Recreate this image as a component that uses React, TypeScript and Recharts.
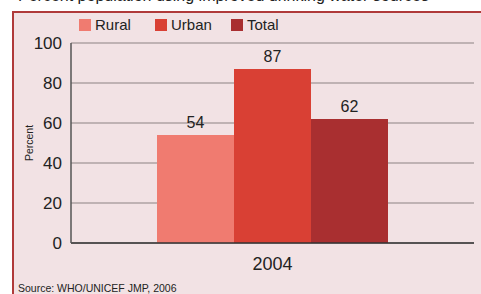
import React from "react";
import { BarChart, Bar, XAxis, YAxis, CartesianGrid, LabelList } from "recharts";

const years = ["2004"];
const rural = [54];
const urban = [87];
const total = [62];
const yTicks = [0, 20, 40, 60, 80, 100];

const seriesInfo = [
  { key: "Rural", color: "#f07b70" },
  { key: "Urban", color: "#d94034" },
  { key: "Total", color: "#a92f30" },
];

const data = years.map((y, i) => ({
  year: y,
  Rural: rural[i],
  Urban: urban[i],
  Total: total[i],
}));

const FONT = "'Liberation Sans', Arial, sans-serif";

export default function App() {
  return (
    <div style={{ position: "absolute", left: 0, top: 0, width: 481, height: 294, background: "#fff", overflow: "hidden", fontFamily: FONT }}>
      {/* panel */}
      <div style={{ position: "absolute", left: 12, top: 11, width: 468, height: 290, background: "#f2e2e4", borderLeft: "2px solid #b03a3a", borderTop: "2px solid #b03a3a", borderRight: "1px solid #b03a3a" }} />
      {/* title, cut off by the top edge like the original */}
      <div style={{ position: "absolute", left: 18, top: -13, fontSize: 16, color: "#222", whiteSpace: "nowrap" }}>
        Percent population using improved drinking water sources
      </div>
      <div style={{ position: "absolute", left: 18, top: 282, fontSize: 10.5, color: "#222", whiteSpace: "nowrap" }}>
        Source: WHO/UNICEF JMP, 2006
      </div>
      <div style={{ position: "absolute", left: 29, top: 143, fontSize: 10.5, color: "#222", transform: "translate(-50%, -50%) rotate(-90deg)", whiteSpace: "nowrap" }}>
        Percent
      </div>
      {/* legend */}
      <div style={{ position: "absolute", left: 79, top: 16, display: "flex", fontSize: 15, color: "#222" }}>
        {seriesInfo.map((s) => (
          <div key={s.key} style={{ display: "flex", alignItems: "center", width: 76 }}>
            <span style={{ width: 12, height: 12, background: s.color, marginRight: 4, display: "inline-block" }} />
            <span>{s.key}</span>
          </div>
        ))}
      </div>
      <div style={{ position: "absolute", left: 0, top: 0 }}>
        <BarChart
          width={481}
          height={294}
          data={data}
          margin={{ top: 43, right: 7, left: 21, bottom: 21 }}
          barGap={0}
          barCategoryGap={86}
        >
          <CartesianGrid vertical={false} stroke="#8c8282" strokeWidth={1} />
          <XAxis
            dataKey="year"
            height={30}
            axisLine={{ stroke: "#333", strokeWidth: 1.5 }}
            tickLine={false}
            tickSize={0}
            tickMargin={14}
            tick={{ fill: "#222", fontSize: 18, fontFamily: FONT }}
          />
          <YAxis
            width={50}
            domain={[0, 100]}
            ticks={yTicks}
            axisLine={{ stroke: "#555", strokeWidth: 1.5 }}
            tickLine={false}
            tickSize={0}
            tickMargin={9}
            tick={{ fill: "#222", fontSize: 17, fontFamily: FONT }}
          />
          {seriesInfo.map((s) => (
            <Bar key={s.key} dataKey={s.key} fill={s.color} isAnimationActive={false}>
              <LabelList dataKey={s.key} position="top" offset={7} style={{ fill: "#222", fontSize: 16, fontFamily: FONT }} />
            </Bar>
          ))}
        </BarChart>
      </div>
    </div>
  );
}
